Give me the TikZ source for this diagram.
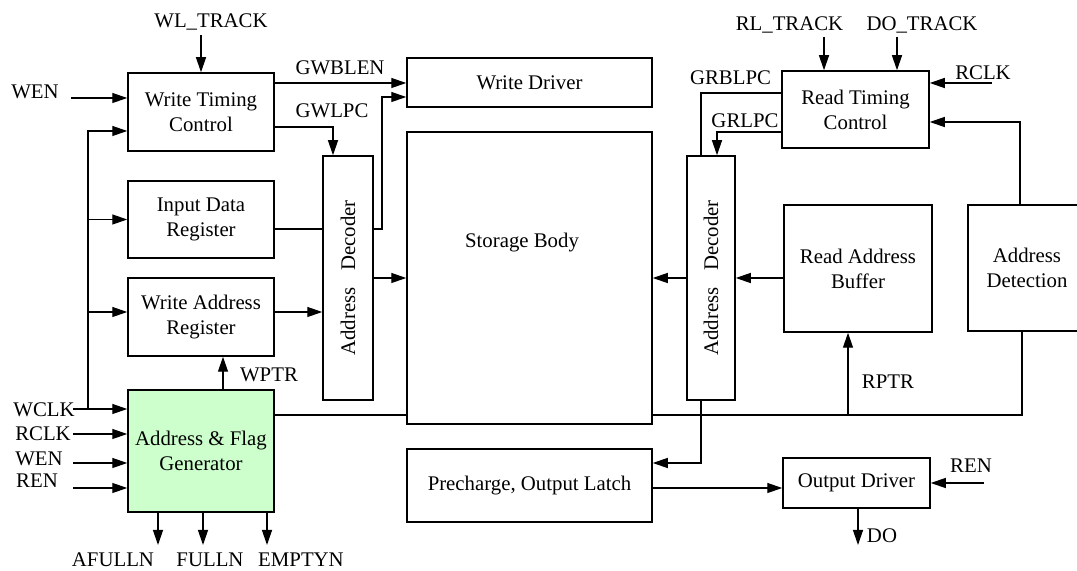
\documentclass[tikz,border=0pt]{standalone}
\usepackage{fontspec}
\setmainfont{Liberation Serif}
\usetikzlibrary{arrows.meta}
\definecolor{flaggreen}{RGB}{204,255,204}

\begin{document}
\begin{tikzpicture}[x=0.5pt, y=-0.5pt, >={Triangle[length=7.5pt,width=5pt]}, line width=0.65pt,
    font=\fontsize{10.4}{12.5}\selectfont,
    block/.style={draw, line width=0.75pt, inner sep=0pt, align=center, fill=white},
    lbl/.style={inner sep=0pt, anchor=base}]
    \useasboundingbox (0,0) rectangle (1077,571);

    % Write side blocks
    \node[block, minimum width=73pt, minimum height=39pt] (wtc) at (201,112) {Write Timing\\Control};
    \node[block, minimum width=73pt, minimum height=38.5pt] (idr) at (201,219.5) {Input Data\\Register};
    \node[block, minimum width=73pt, minimum height=39pt] (war) at (201,317) {Write Address\\Register};
    \node[block, minimum width=73pt, minimum height=61pt, fill=flaggreen] (afg) at (201,451) {Address \& Flag\\Generator};
    \node[block, minimum width=25pt, minimum height=122pt] (wdec) at (348,278) {\rotatebox{90}{Address\hspace{0.8em}Decoder}};

    % Core blocks
    \node[block, minimum width=122.5pt, minimum height=24.5pt] (wd) at (529.5,82.5) {Write Driver};
    \node[block, minimum width=122.5pt, minimum height=146pt] (sb) at (529.5,278) {};
    \node[lbl] (sbtext) at (522,248) {Storage Body};
    \node[block, minimum width=122.5pt, minimum height=36.5pt] (pcol) at (529.5,485.5) {Precharge, Output Latch};

    % Read side blocks
    \node[block, minimum width=24pt, minimum height=122pt] (rdec) at (711,278) {\rotatebox{90}{Address\hspace{0.8em}Decoder}};
    \node[block, minimum width=73.5pt, minimum height=38.5pt] (rtc) at (855.5,109.5) {Read Timing\\Control};
    \node[block, minimum width=74pt, minimum height=63.5pt] (rab) at (858,268.5) {Read Address\\Buffer};
    \node[block, minimum width=59pt, minimum height=63pt] (ad) at (1027,268) {Address\\Detection};
    \node[block, minimum width=73.5pt, minimum height=25pt] (od) at (856.5,483) {Output Driver};

    % Write timing inputs
    \node[lbl] (wltrack) at (211,28) {WL\_TRACK};
    \coordinate (wlt) at (201,35);
    \draw[->] (wlt) -- (wtc.north -| wlt);
    \node[lbl] (wentop) at (35,99) {WEN};
    \coordinate (wenin) at (71,98);
    \draw[->] (wenin) -- (wtc.west |- wenin);

    % Clock bus
    \coordinate (bus) at (88,409);
    \draw[->] (bus) |- (wtc.west |- 0,131);
    \draw[->] (bus |- idr.west) -- (idr.west);
    \draw[->] (bus |- 0,312) -- (war.west |- 0,312);

    % Generator inputs and flags
    \foreach \y/\name/\lx/\ly in {409/WCLK/44/417, 434/RCLK/43/441, 463/WEN/39/466, 488/REN/37/488} {
        \node[lbl] (afg\name) at (\lx,\ly) {\name};
        \coordinate (in\name) at (73,\y);
        \draw[->] (in\name) -- (afg.west |- in\name);
    }
    \foreach \x/\name/\lx in {158/AFULLN/113, 203/FULLN/210, 267/EMPTYN/301} {
        \node[lbl] (flag\name) at (\lx,567) {\name};
        \coordinate (out\name) at (\x,545);
        \draw[->] (afg.south -| out\name) -- (out\name);
    }
    \draw[->] (afg.north -| 223,0) -- (war.south -| 223,0);
    \node[lbl] (wptr) at (269,382) {WPTR};

    % Write paths
    \draw[->] (wtc.east |- 0,83) -- (wd.west |- 0,83);
    \node[lbl] (gwblen) at (340,75) {GWBLEN};
    \draw[->] (wtc.east |- 0,127) -| (wdec.north -| 333,0);
    \node[lbl] (gwlpc) at (332,118) {GWLPC};
    \coordinate (wdjog) at (382,229);
    \draw (idr.east |- wdjog) -- (wdec.west |- wdjog);
    \draw[->] (wdec.east |- wdjog) -- (wdjog) |- (wd.west |- 0,97);
    \draw[->] (war.east |- 0,312) -- (wdec.west |- 0,312);
    \draw[->] (wdec.east) -- (sb.west);

    % Pointer line
    \coordinate (ptr) at (1022,415);
    \draw (afg.east |- ptr) -- (sb.west |- ptr);
    \draw (sb.east |- ptr) -- (ptr) -- (ad.south -| ptr);
    \draw[->] (ptr -| 848,0) -- (rab.south -| 848,0);
    \node[lbl] (rptr) at (888,389) {RPTR};

    % Read timing
    \node[lbl] (rltrack) at (789.5,31) {RL\_TRACK};
    \node[lbl] (dotrack) at (922,31) {DO\_TRACK};
    \coordinate (rlt) at (824,37);
    \coordinate (dot) at (897,37);
    \draw[->] (rlt) -- (rtc.north -| rlt);
    \draw[->] (dot) -- (rtc.north -| dot);
    \node[lbl] (rclk) at (983,80) {RCLK};
    \coordinate (rclkin) at (992,83);
    \draw[->] (rclkin) -- (rtc.east |- rclkin);
    \draw[->] (ad.north -| 1020,0) |- (rtc.east |- 0,122);
    \draw (rtc.west |- 0,93) -| (rdec.north -| 701,0);
    \node[lbl] (grblpc) at (730.5,85) {GRBLPC};
    \draw[->] (rtc.west |- 0,132) -| (rdec.north -| 717,0);
    \node[lbl] (grlpc) at (745,128) {GRLPC};

    % Read paths
    \draw[->] (rab.west |- rdec.east) -- (rdec.east);
    \draw[->] (rdec.west) -- (sb.east);
    \draw[->] (rdec.south -| 701,0) |- (pcol.east |- 0,463);
    \draw[->] (pcol.east |- 0,488) -- (od.west |- 0,488);
    \node[lbl] (ren) at (971,473) {REN};
    \coordinate (renin) at (984,483);
    \draw[->] (renin) -- (od.east |- renin);
    \coordinate (dout) at (858,545);
    \draw[->] (od.south -| dout) -- (dout);
    \node[lbl] (do) at (882,543) {DO};
\end{tikzpicture}
\end{document}
